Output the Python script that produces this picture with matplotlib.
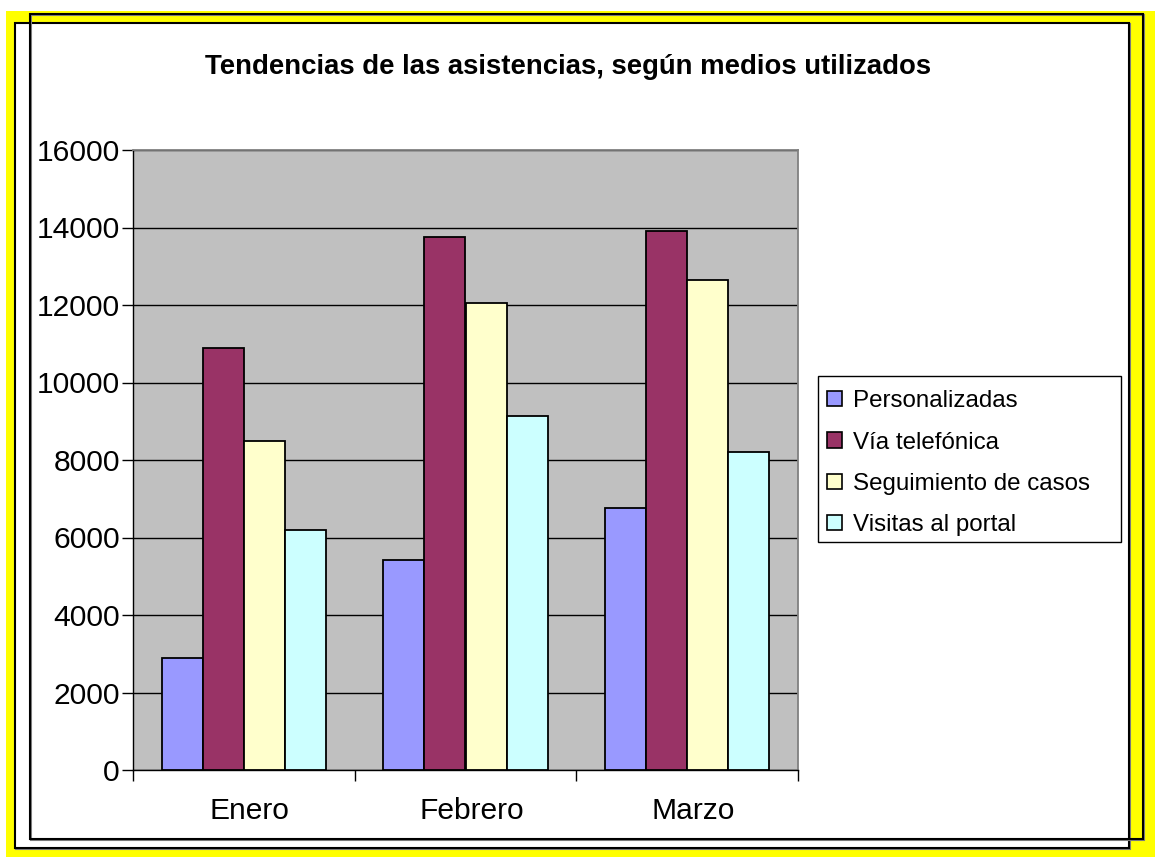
import matplotlib
matplotlib.use("Agg")
import matplotlib.pyplot as plt
import matplotlib.patches as mpatches
import matplotlib.transforms as mtransforms
import numpy as np

# ---- data ----
categories = ["Enero", "Febrero", "Marzo"]
series_names = ["Personalizadas", "Vía telefónica", "Seguimiento de casos", "Visitas al portal"]
personalizadas = [2900, 5420, 6750]
via_telefonica = [10880, 13760, 13910]
seguimiento = [8500, 12060, 12640]
visitas = [6200, 9130, 8210]
yticks = [0, 2000, 4000, 6000, 8000, 10000, 12000, 14000, 16000]
title = "Tendencias de las asistencias, según medios utilizados"

colors = ["#9999FF", "#993366", "#FFFFCC", "#CCFFFF"]
series = [personalizadas, via_telefonica, seguimiento, visitas]

plt.rcParams['font.family'] = ['Liberation Sans', 'DejaVu Sans']

W, H = 1155, 857
fig = plt.figure(figsize=(W / 100, H / 100), dpi=100)
fig.patch.set_facecolor("white")


def fx(x):
    return x / W


def fy(y):
    return 1 - y / H


def rect_px(x0, y0, x1, y1, **kw):
    r = mpatches.Rectangle((fx(x0), fy(y1)), fx(x1) - fx(x0), fy(y0) - fy(y1),
                           transform=fig.transFigure, **kw)
    fig.add_artist(r)
    return r


# yellow background
rect_px(6, 11, W + 5, H + 5, facecolor="#FFFF00", edgecolor="none", zorder=0)
# inner white frame (B) with shadow
rect_px(16, 24, 1130, 849, facecolor="none", edgecolor="#808080", linewidth=1.5, zorder=1)
rect_px(15, 23, 1129, 848, facecolor="white", edgecolor="black", linewidth=1.5, zorder=1.1)
# outline frame (A)
rect_px(31, 15, 1144, 840, facecolor="none", edgecolor="#808080", linewidth=1.5, zorder=1.2)
rect_px(30, 14, 1143, 839, facecolor="none", edgecolor="black", linewidth=1.5, zorder=1.3)

# title
fig.text(fx(568), fy(67), title, ha="center", va="center", fontsize=19.8,
         fontweight="bold", color="black", zorder=5)

# axes
ax = fig.add_axes([fx(133), fy(770), fx(798) - fx(133), fy(150) - fy(770)], zorder=3)
ax.set_facecolor("#C0C0C0")

n = len(series)
bw = 0.185
x = np.arange(len(categories))
for i, (vals, c, name) in enumerate(zip(series, colors, series_names)):
    ax.bar(x + (i - (n - 1) / 2) * bw, vals, width=bw, color=c, edgecolor="black",
           linewidth=1.3, label=name, zorder=3)

ax.set_xlim(-0.5, len(categories) - 0.5)
ax.set_ylim(0, 16000)
ax.set_yticks(yticks)
ax.set_yticklabels([str(v) for v in yticks], fontsize=21.6)
ax.yaxis.grid(True, color="black", linewidth=1.0, zorder=1)
ax.set_axisbelow(True)

# category ticks at boundaries
ax.set_xticks(np.arange(len(categories) + 1) - 0.5)
ax.set_xticklabels([])
ax.tick_params(axis="x", direction="out", length=8, width=1, color="black")
ax.tick_params(axis="y", direction="out", length=8, width=1, color="black", pad=1.5)
for i, cat in enumerate(categories):
    ax.text(i, 0, cat, transform=mtransforms.blended_transform_factory(ax.transData, ax.transAxes)
            + mtransforms.ScaledTranslation(6 / 100, -41 / 100, fig.dpi_scale_trans),
            ha="center", va="center", fontsize=21.6)

for s in ["top", "right"]:
    ax.spines[s].set_color("#808080")
    ax.spines[s].set_linewidth(1.3)
for s in ["left", "bottom"]:
    ax.spines[s].set_color("black")
    ax.spines[s].set_linewidth(1.0)

# legend
rect_px(818, 376, 1121, 542, facecolor="white", edgecolor="black", linewidth=1.0, zorder=4)
handles = [mpatches.Patch(facecolor=c, edgecolor="black", linewidth=1.2) for c in colors]
leg = fig.legend(handles, series_names, loc="upper left",
                 bbox_to_anchor=(fx(820), fy(383)), frameon=False, fontsize=17.4,
                 handlelength=0.6, handleheight=0.6, handletextpad=0.45,
                 labelspacing=0.8, borderpad=0.3, borderaxespad=0)
leg.set_zorder(6)

fig.savefig("out.png", dpi=100, facecolor=fig.get_facecolor())
